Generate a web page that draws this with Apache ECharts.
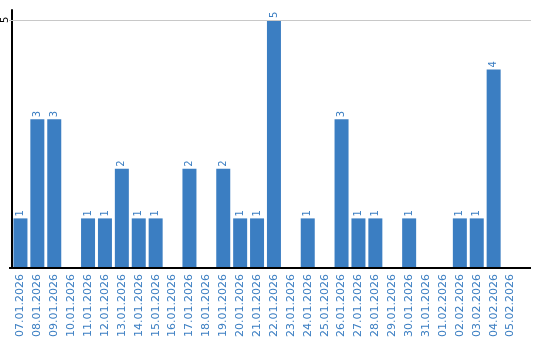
<!DOCTYPE html>
<html><head><meta charset="utf-8">
<script src="https://cdn.jsdelivr.net/npm/echarts@6/dist/echarts.min.js"></script>
<style>html,body{margin:0;padding:0;background:#fff}#c{width:540px;height:340px}</style>
</head><body><div id="c"></div>
<script>
const categories = ["07.01.2026","08.01.2026","09.01.2026","10.01.2026","11.01.2026","12.01.2026","13.01.2026","14.01.2026","15.01.2026","16.01.2026","17.01.2026","18.01.2026","19.01.2026","20.01.2026","21.01.2026","22.01.2026","23.01.2026","24.01.2026","25.01.2026","26.01.2026","27.01.2026","28.01.2026","29.01.2026","30.01.2026","31.01.2026","01.02.2026","02.02.2026","03.02.2026","04.02.2026","05.02.2026"];
const values = [1,3,3,0,1,1,2,1,1,0,2,0,2,1,1,5,0,1,0,3,1,1,0,1,0,0,1,1,4,0];
const yTickLabels = [5];
const blue = '#3b7ec2';
const chart = echarts.init(document.getElementById('c'));
chart.setOption({
  animation:false,
  grid:{left:9,right:21,top:10,bottom:70,containLabel:false},
  xAxis:{type:'category',data:categories,
    axisLine:{show:false},
    axisTick:{show:false},
    axisLabel:{rotate:90,interval:0,color:blue,fontFamily:'DejaVu Sans',fontSize:11,margin:6}},
  yAxis:{type:'value',min:0,max:5.2,interval:5,
    axisLine:{show:true,lineStyle:{color:'#000',width:2}},
    axisTick:{show:false},
    splitLine:{show:false},
    axisLabel:{rotate:90,color:'#000',fontFamily:'DejaVu Sans',fontSize:10,margin:2,
      formatter:v=>yTickLabels.includes(v)?String(v):''}},
  series:[{type:'bar',data:values.map(v=>v===0?null:v),barWidth:14,
    itemStyle:{color:blue},
    label:{show:true,position:'top',rotate:90,align:'left',verticalAlign:'middle',distance:2,color:blue,fontFamily:'DejaVu Sans',fontSize:10},
    markLine:{silent:true,symbol:'none',label:{show:false},
      lineStyle:{color:'#c8c8c8',type:'solid',width:1},
      data:[[{coord:[0,5],x:9},{x:531,y:20}]]}}]
});
const y0 = chart.convertToPixel({yAxisIndex:0},0);
chart.setOption({graphic:[{type:'line',shape:{x1:9,y1:y0,x2:531,y2:y0},style:{stroke:'#000',lineWidth:2},z:10}]});
</script></body></html>
